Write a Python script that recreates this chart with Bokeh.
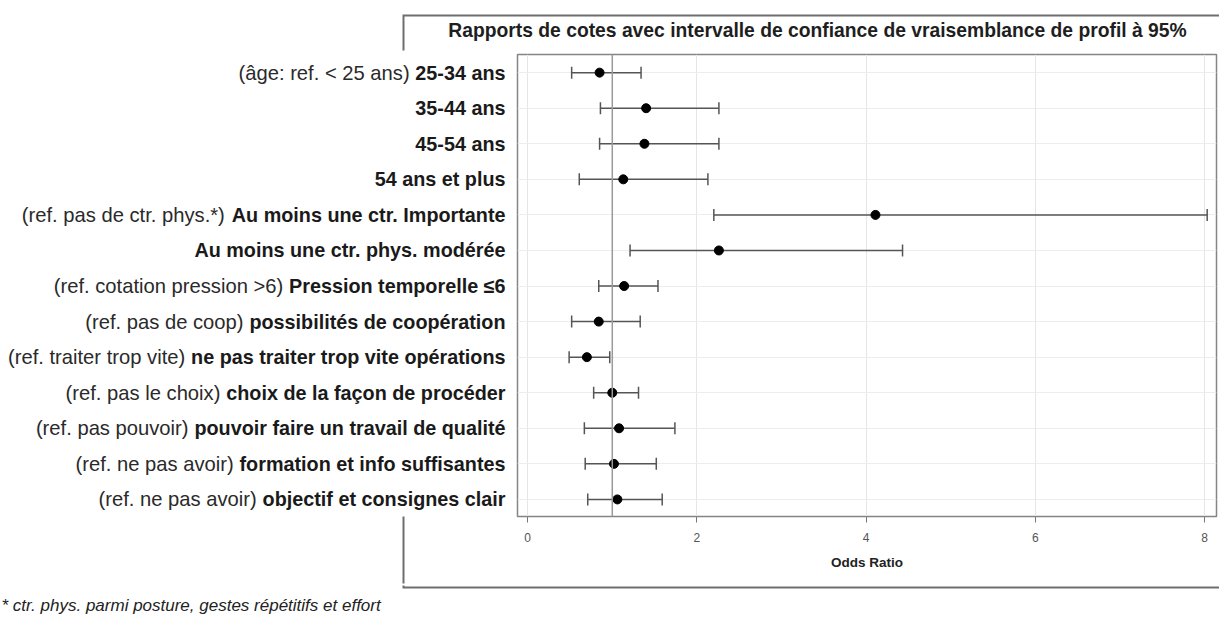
from bokeh.plotting import figure
from bokeh.layouts import column, row
from bokeh.models import (ColumnDataSource, Whisker, TeeHead, Span, FixedTicker,
                          Label, Range1d)
from bokeh.core.properties import value
from bokeh.embed import file_html
from bokeh.resources import INLINE

# ---------------- data ----------------
prefixes = [
    "(âge: ref. < 25 ans)", "", "", "",
    "(ref. pas de ctr. phys.*)", "",
    "(ref. cotation pression >6)",
    "(ref. pas de coop)",
    "(ref. traiter trop vite)",
    "(ref. pas le choix)",
    "(ref. pas pouvoir)",
    "(ref. ne pas avoir)",
    "(ref. ne pas avoir)",
]
names = [
    "25-34 ans", "35-44 ans", "45-54 ans", "54 ans et plus",
    "Au moins une ctr. Importante",
    "Au moins une ctr. phys. modérée",
    "Pression temporelle ≤6",
    "possibilités de coopération",
    "ne pas traiter trop vite opérations",
    "choix de la façon de procéder",
    "pouvoir faire un travail de qualité",
    "formation et info suffisantes",
    "objectif et consignes clair",
]
odds_ratio = [0.85, 1.40, 1.38, 1.13, 4.11, 2.26, 1.14, 0.84, 0.70, 1.00, 1.08, 1.02, 1.06]
ci_lower   = [0.52, 0.86, 0.85, 0.61, 2.20, 1.21, 0.84, 0.52, 0.49, 0.78, 0.67, 0.68, 0.71]
ci_upper   = [1.34, 2.26, 2.26, 2.13, 8.03, 4.43, 1.54, 1.33, 0.97, 1.31, 1.74, 1.52, 1.59]
x_ticks = [0, 2, 4, 6, 8]
reference_value = 1
title_text = "Rapports de cotes avec intervalle de confiance de vraisemblance de profil à 95%"
x_label = "Odds Ratio"
footnote = "* ctr. phys. parmi  posture, gestes répétitifs et effort"

rows = list(range(1, len(names) + 1))

# ---------------- text metrics (Arial / Liberation Sans Bold, 1/1000 em) ----------------
BOLD_W = {
    'a': 556, 'b': 611, 'c': 556, 'd': 611, 'e': 556, 'f': 333, 'g': 611, 'h': 611,
    'i': 278, 'j': 278, 'k': 556, 'l': 278, 'm': 889, 'n': 611, 'o': 611, 'p': 611,
    'q': 611, 'r': 389, 's': 556, 't': 333, 'u': 611, 'v': 556, 'w': 778, 'x': 556,
    'y': 556, 'z': 500, 'A': 722, 'I': 278, 'P': 667, ' ': 278, '-': 333, '.': 278,
    'é': 556, 'ç': 556, '≤': 549,
}
for d in "0123456789":
    BOLD_W[d] = 556


def bold_width(s, size):
    return sum(BOLD_W.get(c, 556) for c in s) * size / 1000.0


FONT = "Liberation Sans"
BOLD_PX = 19.8
REG_PX = 20.2

# ---------------- layout (page pixels) ----------------
PAGE_W = 1219
TOP_H = 53            # strip above the plot
MID_H = 532           # plot row
BOT_H = 37            # strip below
LEFT_W = 515          # label panel width
MAIN_W = PAGE_W - LEFT_W
FRAME_TOP, FRAME_BOTTOM = 54, 516
FRAME_LEFT = 517
LABEL_RIGHT = 505
Y_BOTTOM, Y_TOP = 13.48, 0.49
X_START, X_END = -0.12, 8.14
BOX_LEFT, BOX_TOP, BOX_BOTTOM = 403, 15, 587
BOX_GAP_TOP = 50
BOX_COLOR = "#6e6e6e"
MID_TOP = TOP_H
MID_BOTTOM = TOP_H + MID_H


def blank(width, height, x_range, y_range, **kw):
    f = figure(width=width, height=height, output_backend="svg", toolbar_location=None,
               x_range=x_range, y_range=y_range, **kw)
    f.title.text = ""
    f.title.visible = False
    f.outline_line_color = None
    f.grid.visible = False
    f.background_fill_color = "white"
    f.border_fill_color = "white"
    return f


shared_y = Range1d(Y_BOTTOM, Y_TOP)

# ---------------- top strip: title + box top ----------------
top = blank(PAGE_W, TOP_H, Range1d(0, PAGE_W), Range1d(TOP_H, 0), min_border=0,
            x_axis_location=None, y_axis_location=None)
top.line(x=[BOX_LEFT, BOX_LEFT, PAGE_W + 20], y=[BOX_GAP_TOP, BOX_TOP, BOX_TOP],
         line_color=BOX_COLOR, line_width=2, line_join="miter")
top.add_layout(Label(x=817, y=30, text=title_text, text_align="center",
                     text_baseline="middle", text_font=FONT, text_font_style="bold",
                     text_font_size="19.3px", text_color="#1e1e1e"))

# ---------------- left strip: category labels (shares the plot's y scale) ----------------
left = blank(LEFT_W, MID_H, Range1d(0, LEFT_W), shared_y,
             min_border_left=0, min_border_right=0,
             min_border_top=FRAME_TOP - MID_TOP,
             min_border_bottom=MID_BOTTOM - FRAME_BOTTOM,
             y_axis_location=None)
space_px = 0.278 * REG_PX
prefix_x = [LABEL_RIGHT - bold_width(n, BOLD_PX) - space_px for n in names]
lab = ColumnDataSource(dict(y=rows, names=names, prefixes=prefixes, px=prefix_x,
                            bx=[LABEL_RIGHT] * len(rows)))
left.text(x="bx", y="y", text="names", source=lab, text_align="right",
          text_baseline="middle", text_font=value(FONT), text_font_style=value("bold"),
          text_font_size=value(f"{BOLD_PX}px"), text_color="#1a1a1a")
left.text(x="px", y="y", text="prefixes", source=lab, text_align="right",
          text_baseline="middle", text_font=value(FONT),
          text_font_size=value(f"{REG_PX}px"), text_color="#2a2a2a")
# lower part of the outer box's left edge, drawn as a long tick below the label panel
left.xaxis.ticker = FixedTicker(ticks=[BOX_LEFT])
left.xaxis.axis_line_color = None
left.xaxis.major_tick_line_color = BOX_COLOR
left.xaxis.major_tick_line_width = 2
left.xaxis.major_tick_in = 0
left.xaxis.major_tick_out = MID_BOTTOM - FRAME_BOTTOM - 2
left.xaxis.minor_tick_line_color = None
left.xaxis.major_label_overrides = {BOX_LEFT: ""}
left.xaxis.major_label_text_font_size = "0px"
left.xaxis.major_label_standoff = 0

# ---------------- main plot ----------------
p = figure(width=MAIN_W, height=MID_H, output_backend="svg", toolbar_location=None,
           x_range=Range1d(X_START, X_END), y_range=shared_y,
           min_border_left=FRAME_LEFT - LEFT_W, min_border_right=3,
           min_border_top=FRAME_TOP - MID_TOP,
           min_border_bottom=MID_BOTTOM - FRAME_BOTTOM)
p.title.text = ""
p.title.visible = False
p.background_fill_color = "white"
p.border_fill_color = "white"
p.outline_line_color = "#858585"
p.outline_line_width = 1.5

p.yaxis.visible = False
p.ygrid.ticker = FixedTicker(ticks=rows)
p.xgrid.grid_line_color = "#e6e6e6"
p.ygrid.grid_line_color = "#ededed"

p.xaxis.ticker = FixedTicker(ticks=x_ticks)
p.xaxis.axis_line_color = None
p.xaxis.major_tick_line_color = "#777777"
p.xaxis.major_tick_out = 6
p.xaxis.major_tick_in = 0
p.xaxis.minor_tick_line_color = None
p.xaxis.major_label_text_font = FONT
p.xaxis.major_label_text_font_size = "12px"
p.xaxis.major_label_text_color = "#555555"
p.xaxis.major_label_standoff = 10
p.xaxis.axis_label = x_label
p.xaxis.axis_label_text_font = FONT
p.xaxis.axis_label_text_font_style = "bold"
p.xaxis.axis_label_text_font_size = "13.5px"
p.xaxis.axis_label_text_color = "#222222"
p.xaxis.axis_label_standoff = 10

p.add_layout(Span(location=reference_value, dimension="height",
                  line_color="#9a9a9a", line_width=1.5))

src = ColumnDataSource(dict(y=rows, orv=odds_ratio, lo=ci_lower, hi=ci_upper))
p.add_layout(Whisker(source=src, base="y", lower="lo", upper="hi", dimension="width",
                     line_color="#555555", line_width=1.5,
                     upper_head=TeeHead(size=12, line_color="#555555", line_width=1.5),
                     lower_head=TeeHead(size=12, line_color="#555555", line_width=1.5)))
p.scatter("orv", "y", source=src, size=9, color="black")

# ---------------- bottom strip: box bottom + footnote ----------------
bottom = blank(PAGE_W, BOT_H, Range1d(0, PAGE_W), Range1d(MID_BOTTOM + BOT_H, MID_BOTTOM),
               min_border=0, x_axis_location=None, y_axis_location=None)
bottom.line(x=[BOX_LEFT, BOX_LEFT, PAGE_W + 20], y=[MID_BOTTOM - 2, BOX_BOTTOM, BOX_BOTTOM],
            line_color=BOX_COLOR, line_width=2, line_join="miter")
bottom.add_layout(Label(x=1, y=605, text=footnote, text_align="left",
                        text_baseline="middle", text_font=FONT, text_font_style="italic",
                        text_font_size="17px", text_color="#222222"))

layout = column(top, row(left, p), bottom)
open("out.html", "w").write(file_html(layout, INLINE))
